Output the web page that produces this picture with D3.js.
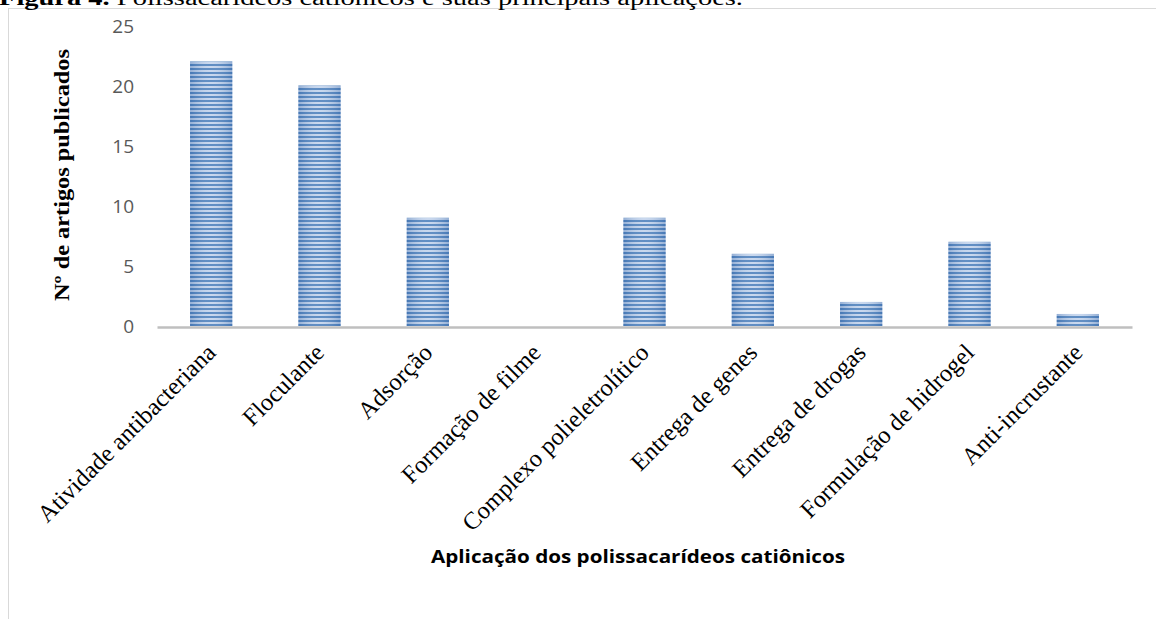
<!DOCTYPE html>
<html><head><meta charset="utf-8">
<script src="https://cdn.jsdelivr.net/npm/d3@7"></script>
<style>html,body{margin:0;padding:0;background:#fff;overflow:hidden}</style>
</head><body>
<svg id="c" width="1156" height="619"></svg>
<script>
const categories = ["Atividade antibacteriana","Floculante","Adsorção","Formação de filme","Complexo polieletrolítico","Entrega de genes","Entrega de drogas","Formulação de hidrogel","Anti-incrustante"];
const values = [22,20,9,0,9,6,2,7,1];
const yTicks = [0,5,10,15,20,25];
const caption = "Figura 4. Polissacarídeos catiônicos e suas  principais aplicações.";
const xTitle = "Aplicação dos polissacarídeos catiônicos";
const yTitle = "Nº de artigos publicados";

const svg = d3.select("#c");
const defs = svg.append("defs");
const pat = defs.append("pattern").attr("id","stripes").attr("patternUnits","userSpaceOnUse")
  .attr("width",8).attr("height",4);
pat.append("rect").attr("width",8).attr("height",4).attr("fill","#c2d3ec");
pat.append("rect").attr("y",0).attr("width",8).attr("height",2).attr("fill","#4a7ebb");
const grad = defs.append("linearGradient").attr("id","shade").attr("x1","0").attr("x2","1").attr("y1","0").attr("y2","0");
grad.append("stop").attr("offset","0%").attr("stop-color","#3c6aa8").attr("stop-opacity",0.35);
grad.append("stop").attr("offset","50%").attr("stop-color","#ffffff").attr("stop-opacity",0.12);
grad.append("stop").attr("offset","100%").attr("stop-color","#3c6aa8").attr("stop-opacity",0.35);

// frame
svg.append("line").attr("x1",8.5).attr("x2",8.5).attr("y1",8.5).attr("y2",619).attr("stroke","#d9d9d9");
svg.append("line").attr("x1",8).attr("x2",1156).attr("y1",8.5).attr("y2",8.5).attr("stroke","#d9d9d9");

// caption (cut off at top, as in the reference)
svg.append("text").attr("x",-1).attr("y",5).attr("font-family","Liberation Serif").attr("font-size",20)
  .attr("fill","#000").attr("textLength",744).attr("lengthAdjust","spacingAndGlyphs")
  .html('<tspan font-weight="bold">Figura 4.</tspan> Polissacarídeos catiônicos e suas  principais aplicações.');

const x = d3.scaleBand().domain(categories).range([157,1132]).paddingInner(0.61).paddingOuter(0.305);
const y = d3.scaleLinear().domain([0,25]).range([326,25.5]);

// y tick labels
const yAxis = d3.axisLeft(y).tickValues(yTicks).tickSize(0).tickPadding(0);
const ya = svg.append("g").attr("transform","translate(134,0)").call(yAxis);
ya.select(".domain").remove();
ya.selectAll("text").attr("font-family","Open Sans").attr("font-size",19).attr("fill","#595959").attr("dy","0.35em");

// bars
const bars = svg.append("g");
categories.forEach((c,i)=>{
  if(values[i]<=0) return;
  bars.append("rect").attr("x",x(c)).attr("y",y(values[i])).attr("width",x.bandwidth()).attr("height",y(0)-y(values[i])).attr("fill","url(#stripes)");
  bars.append("rect").attr("x",x(c)).attr("y",y(values[i])).attr("width",x.bandwidth()).attr("height",y(0)-y(values[i])).attr("fill","url(#shade)");
});

// x axis line
const xAxis = d3.axisBottom(x).tickSize(0).tickFormat("");
const xa = svg.append("g").attr("transform","translate(0,327)").call(xAxis);
xa.select(".domain").attr("stroke","#bfbfbf").attr("stroke-width",2.5);

// category labels
svg.append("g").selectAll("text").data(categories).join("text")
  .attr("transform",d=>`translate(${x(d)+x.bandwidth()/2+6},354) rotate(-45)`)
  .attr("text-anchor","end").attr("font-family","Liberation Serif").attr("font-size",24.5).attr("fill","#000")
  .text(d=>d);

// axis titles
svg.append("text").attr("x",638).attr("y",563).attr("text-anchor","middle")
  .attr("font-family","Open Sans").attr("font-weight","bold").attr("font-size",18).attr("fill","#000")
  .attr("textLength",414).attr("lengthAdjust","spacingAndGlyphs").text(xTitle);
svg.append("text").attr("transform","translate(69,175) rotate(-90)").attr("text-anchor","middle")
  .attr("font-family","Liberation Serif").attr("font-weight","bold").attr("font-size",22).attr("fill","#000")
  .attr("textLength",252).attr("lengthAdjust","spacingAndGlyphs").text(yTitle);
</script>
</body></html>
